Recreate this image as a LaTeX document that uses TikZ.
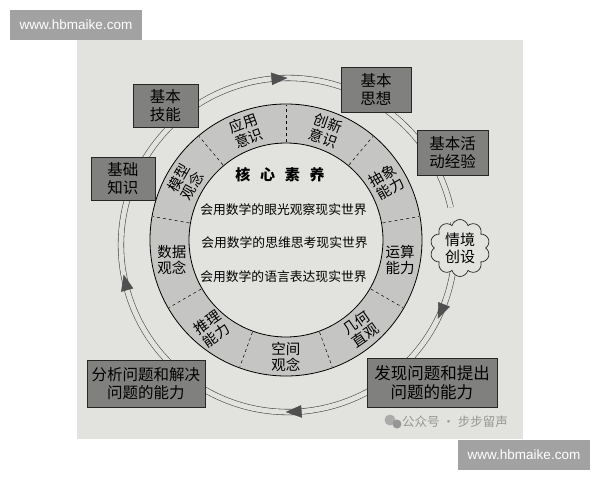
\documentclass[tikz,border=0pt]{standalone}
\usepackage{fontspec}
\setmainfont{Noto Sans CJK SC}
\newfontfamily\wmfont{Liberation Sans}
\usetikzlibrary{shapes.symbols}
\definecolor{photo}{RGB}{226,226,223}
\definecolor{band}{RGB}{197,197,195}
\definecolor{boxgray}{RGB}{128,128,127}
\definecolor{wmgray}{RGB}{162,162,162}
\definecolor{tipgray}{RGB}{80,80,80}
\definecolor{marktext}{RGB}{150,150,150}

\begin{document}
\begin{tikzpicture}[x=1pt,y=1pt,
 box/.style={draw=black!85,line width=0.8pt,fill=boxgray,align=center,inner sep=0pt,font=\fontsize{15.5}{17.5}\selectfont},
 seg/.style={align=center,inner sep=0pt,font=\fontsize{14.5}{15.5}\selectfont},
 flow/.style={draw=black!70,line width=0.6pt,double=photo,double distance=5pt},
 tip/.style={fill=tipgray,draw=black!70,line width=0.4pt},
 wm/.style={fill=wmgray,text=white,inner sep=0pt,minimum width=132,minimum height=30,font=\wmfont\fontsize{13.5}{15}\selectfont},
 line/.style={font=\fontsize{12.8}{14}\selectfont}]

\useasboundingbox (-286,-240) rectangle (314,240);
\fill[white] (-286,-240) rectangle (314,240);
\fill[photo] (-209,-199) rectangle (237,200);

% watermarks
\node[wm] (wmtop) at (-210,215) {www.hbmaike.com};
\node[wm] (wmbot) at (238,-215) {www.hbmaike.com};

% flow ring with arrows
\begin{scope}[shift={(2,-5)}]
 \draw[flow] (13:167) arc[start angle=13,end angle=368,radius=167];
 \foreach \a in {93,193,-23.5,-88}
  \filldraw[tip] (\a-2.6:167) -- (\a+2.6:173) -- (\a+2.6:161) -- cycle;
\end{scope}

% core ring
\fill[band,even odd rule] (0,0) circle[radius=136] (0,0) circle[radius=97];
\draw[line width=0.8pt] (0,0) circle[radius=136] (0,0) circle[radius=97];
\foreach \a in {90,50,10,-30,-70,-110,-150,170,130}
 \draw[dashed,line width=0.5pt] (\a:98) -- (\a:135);

\node[seg,rotate=20] (yingyong) at (110:116) {应用\\意识};
\node[seg,rotate=-20] (chuangxin) at (70:116) {创新\\意识};
\node[seg,rotate=30] (chouxiang) at (30:116) {抽象\\能力};
\node[seg] (yunsuan) at (-10:116) {运算\\能力};
\node[seg,rotate=35] (jihe) at (-50:116) {几何\\直观};
\node[seg] (kongjian) at (-90:117) {空间\\观念};
\node[seg,rotate=35] (tuili) at (-130:116) {推理\\能力};
\node[seg] (shuju) at (190:116) {数据\\观念};
\node[seg,rotate=60] (moxing) at (150:116) {模型\\观念};

% centre
\node[font=\bfseries\fontsize{15}{17}\selectfont] (hexin) at (-6,65) {核\hspace{0.65em}心\hspace{0.65em}素\hspace{0.65em}养};
\node[line] (yanguang) at (-2.5,30) {会用数学的眼光观察现实世界};
\node[line] (siwei) at (-1.5,-3) {会用数学的思维思考现实世界};
\node[line] (yuyan) at (-2.5,-37) {会用数学的语言表达现实世界};

% boxes
\node[box,minimum width=65,minimum height=43] (jineng) at (-120.5,134.5) {基本\\技能};
\node[box,minimum width=64,minimum height=43] (zhishi) at (-163,61.5) {基础\\知识};
\node[box,minimum width=70,minimum height=45] (sixiang) at (90,150.5) {基本\\思想};
\node[box,minimum width=71,minimum height=45] (jingyan) at (166.5,87.5) {基本活\\动经验};
\node[box,minimum width=118,minimum height=47] (fenxi) at (-140,-143.5) {分析问题和解决\\问题的能力};
\node[box,minimum width=130,minimum height=49,font=\fontsize{16.5}{19}\selectfont] (faxian) at (146,-142.5) {发现问题和提出\\问题的能力};
\node[cloud,cloud puffs=10,aspect=1.05,draw=black!85,line width=0.7pt,fill=photo,minimum width=60,minimum height=57,inner sep=0pt,align=center,font=\fontsize{15}{17}\selectfont] (qingjing) at (174,-8) {情境\\创设};

% account mark
\fill[marktext!80] (104,-180) circle[radius=5.5];
\fill[marktext] (111,-184) circle[radius=4.5];
\node[text=marktext,font=\fontsize{12.5}{14}\selectfont] (gzh) at (169,-182) {公众号 · 步步留声};
\end{tikzpicture}
\end{document}
